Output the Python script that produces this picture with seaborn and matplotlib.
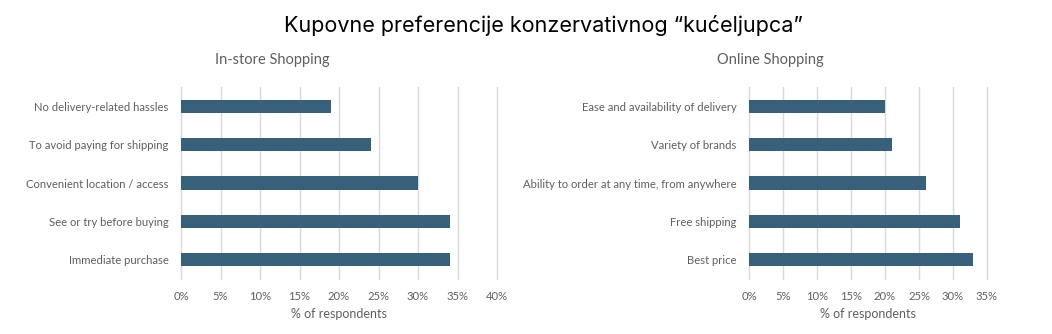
import matplotlib
matplotlib.use("Agg")
import matplotlib.pyplot as plt
import seaborn as sns
import pandas as pd
from matplotlib.ticker import PercentFormatter, MultipleLocator

title = "Kupovne preferencije konzervativnog \u201cku\u0107eljupca\u201d"
instore_title = "In-store Shopping"
online_title = "Online Shopping"
xlabel = "% of respondents"

instore_labels = ["No delivery-related hassles", "To avoid paying for shipping",
                  "Convenient location / access", "See or try before buying",
                  "Immediate purchase"]
instore_values = [19, 24, 30, 34, 34]

online_labels = ["Ease and availability of delivery", "Variety of brands",
                 "Ability to order at any time, from anywhere", "Free shipping",
                 "Best price"]
online_values = [20, 21, 26, 31, 33]

bar_color = "#37607A"
grey = "#5F5F5F"

sns.set_theme(style="white")
plt.rcParams['font.family'] = ['Lato', 'DejaVu Sans']

fig = plt.figure(figsize=(10.52, 3.34), dpi=100)
ax1 = fig.add_axes([181/1052, 1-279/334, (497-181)/1052, (279-87)/334])
ax2 = fig.add_axes([749/1052, 1-279/334, (987-749)/1052, (279-87)/334])

def draw(ax, labels, values, xmax):
    df = pd.DataFrame({"label": labels, "value": values})
    sns.barplot(data=df, x="value", y="label", ax=ax, color=bar_color,
                width=0.34, saturation=1, linewidth=0, zorder=3)
    ax.set_xlim(0, xmax)
    ax.set_ylim(4.5, -0.5)
    ax.xaxis.set_major_locator(MultipleLocator(5))
    ax.xaxis.set_major_formatter(PercentFormatter(decimals=0))
    ax.grid(axis="x", color="#D9D9D9", linewidth=1, zorder=0)
    for gl in ax.get_xgridlines():
        gl.set_clip_on(False)
    ax.set_axisbelow(True)
    for s in ax.spines.values():
        s.set_visible(False)
    ax.tick_params(axis="both", length=0, labelsize=8.1, colors=grey)
    ax.tick_params(axis="y", pad=9)
    ax.tick_params(axis="x", pad=9)
    ax.set_ylabel("")
    ax.set_xlabel(xlabel, fontsize=9, color=grey, labelpad=4)

draw(ax1, instore_labels, instore_values, 40)
draw(ax2, online_labels, online_values, 35)

fig.text(272/1052, 1-60/334, instore_title, ha="center", va="center", fontsize=10.5, color=grey)
fig.text(770/1052, 1-60/334, online_title, ha="center", va="center", fontsize=10.5, color=grey)
fig.text(543/1052, 1-25/334, title, ha="center", va="center", fontsize=15.5, color="black",
         family=["Inter", "DejaVu Sans"])

fig.savefig("out.png", dpi=100, facecolor="white")
